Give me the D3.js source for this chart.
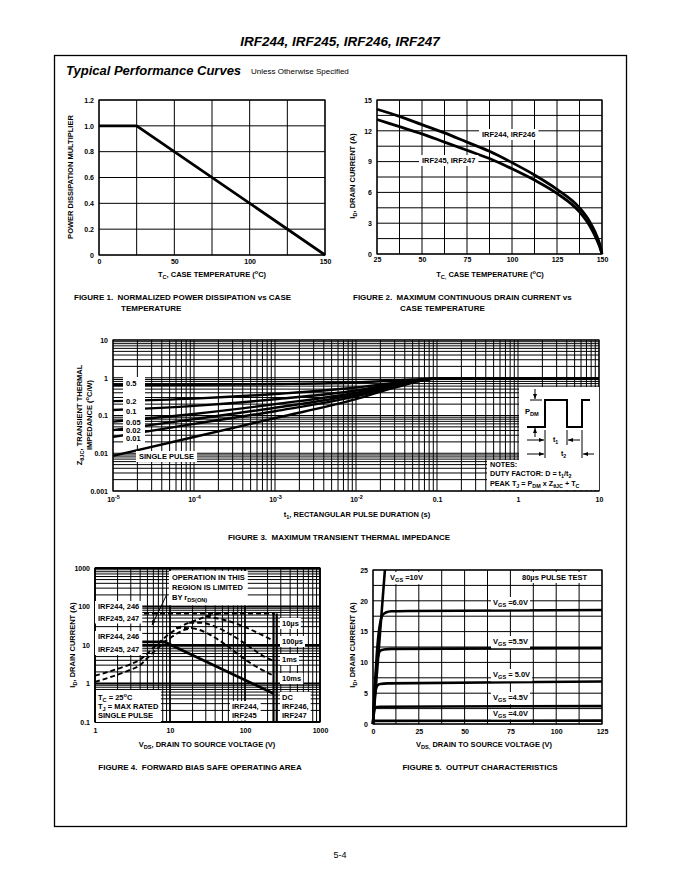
<!DOCTYPE html>
<html><head><meta charset="utf-8">
<script src="https://cdn.jsdelivr.net/npm/d3@7"></script>
<style>
body{margin:0;background:#fff}
text{font-family:"Liberation Sans",Arial,Helvetica,sans-serif;fill:#000;white-space:pre}
</style></head><body>
<svg id="c" width="680" height="880"></svg>
<script>
// ---------- DATA ----------
const fig1Temp = [0, 25, 150];
const fig1Mult = [1.0, 1.0, 0];
const fig1XTicks = [0, 50, 100, 150];
const fig1YTicks = [0, 0.2, 0.4, 0.6, 0.8, 1.0, 1.2];

const fig2Temp = [25, 37.5, 50, 62.5, 75, 87.5, 100, 112.5, 125, 137.5, 143, 146, 148.5, 150];
const fig2Id244 = [14.1, 13.4, 12.6, 11.8, 10.9, 10.0, 8.9, 7.7, 6.3, 4.5, 3.2, 2.2, 1.1, 0];
const fig2Id245 = [13.1, 12.4, 11.7, 10.9, 10.1, 9.3, 8.3, 7.2, 5.9, 4.1, 2.8, 1.8, 0.8, 0];
const fig2XTicks = [25, 50, 75, 100, 125, 150];
const fig2YTicks = [0, 3, 6, 9, 12, 15];

const fig3T = [1e-5, 1e-4, 1e-3, 1e-2, 3e-2, 0.1, 10];
const fig3Z05 = [0.64, 0.65, 0.68, 0.75, 0.84, 0.95, 0.95];
const fig3Z02 = [0.24, 0.28, 0.37, 0.55, 0.74, 0.95, 0.95];
const fig3Z01 = [0.14, 0.18, 0.27, 0.46, 0.69, 0.95, 0.95];
const fig3Z005 = [0.069, 0.11, 0.2, 0.4, 0.65, 0.95, 0.95];
const fig3Z002 = [0.041, 0.08, 0.16, 0.36, 0.62, 0.95, 0.95];
const fig3Z001 = [0.027, 0.06, 0.13, 0.32, 0.58, 0.95, 0.95];
const fig3ZSingle = [0.0085, 0.027, 0.085, 0.27, 0.55, 0.95, 0.95];
const fig3Duty = ["0.5", "0.2", "0.1", "0.05", "0.02", "0.01"];
const fig3XTicks = [1e-5, 1e-4, 1e-3, 1e-2, 0.1, 1, 10];
const fig3YTicks = [0.001, 0.01, 0.1, 1, 10];

const fig4DcV = [1, 8.5, 240];
const fig4DcI = [12, 12, 0.55];
const fig4RdsV_A = [1, 1.5, 2, 3, 4, 5, 6, 7, 8, 10, 13, 18, 25, 35, 45];
const fig4RdsI_A = [1.6, 2, 2.4, 3.2, 4.2, 6, 8.5, 11, 14, 20, 28, 38, 48, 60, 66];
const fig4RdsV_B = [1, 1.5, 2, 3, 4, 5, 6, 7, 8, 10, 13, 16, 20];
const fig4RdsI_B = [1.1, 1.4, 1.7, 2.3, 3, 4.6, 6.5, 8.5, 11, 15, 21, 25, 28];
const fig4P10usV = [4.5, 250];
const fig4P10usI = [66, 66];
const fig4P100usV = [30, 50, 80, 120, 170, 232];
const fig4P100usI = [55, 46, 35, 25, 18, 13.4];
const fig4P1msV = [18, 25, 40, 70, 120, 180, 232];
const fig4P1msI = [38, 38, 30, 17, 8.5, 5, 4];
const fig4P10msV = [12, 20, 35, 60, 100, 160, 232];
const fig4P10msI = [28, 27, 18, 9, 4.2, 2.4, 1.65];
const fig4VmaxA = 240, fig4VmaxB = 265;
const fig4XTicks = [1, 10, 100, 1000];
const fig4YTicks = [0.1, 1, 10, 100, 1000];

const fig5Vgs10V = [0, 6.5];
const fig5Vgs10I = [0, 25];
const fig5V60 = [0, 1, 2, 3, 4, 5, 7, 10, 20, 125];
const fig5I60 = [0, 6, 11, 14.5, 16.5, 17.6, 18.1, 18.3, 18.35, 18.5];
const fig5V55 = [0, 1, 2, 3, 4, 6, 10, 125];
const fig5I55 = [0, 5.5, 9.5, 11.3, 11.9, 12.1, 12.2, 12.3];
const fig5V50 = [0, 0.7, 1.5, 2.5, 4, 8, 125];
const fig5I50 = [0, 3.5, 5.5, 6.3, 6.5, 6.6, 6.9];
const fig5V45 = [0, 0.5, 1, 2, 4, 125];
const fig5I45 = [0, 1.8, 2.5, 2.75, 2.8, 2.9];
const fig5V40 = [0, 0.3, 1, 125];
const fig5I40 = [0, 0.4, 0.5, 0.55];
const fig5XTicks = [0, 25, 50, 75, 100, 125];
const fig5YTicks = [0, 5, 10, 15, 20, 25];

// ---------- HELPERS ----------
const FONT = '"Liberation Sans",Arial,Helvetica,sans-serif';
const svg = d3.select('#c');
svg.append('rect').attr('width', 680).attr('height', 880).attr('fill', '#fff');
const defs = svg.append('defs');
defs.append('marker').attr('id', 'ah').attr('viewBox', '0 0 10 10').attr('refX', 10).attr('refY', 5)
  .attr('markerWidth', 5).attr('markerHeight', 5).attr('orient', 'auto')
  .append('path').attr('d', 'M0,1 L10,5 L0,9 Z').attr('fill', '#000');

function rt(g, x, y, parts, o = {}) {
  const fs = o.size || 7.5;
  const t = g.append('text').attr('x', x).attr('y', y)
    .attr('font-size', fs).attr('font-weight', o.weight || 'bold')
    .attr('text-anchor', o.anchor || 'start');
  if (o.style) t.attr('font-style', o.style);
  if (o.transform) t.attr('transform', o.transform);
  let cur = 0;
  parts.forEach(p => {
    let txt = p, off = 0, size = fs;
    if (Array.isArray(p)) { txt = p[0]; off = p[1] === 'sub' ? 0.3 * fs : -0.4 * fs; size = fs * 0.75; }
    t.append('tspan').attr('dy', off - cur).attr('font-size', size).text(txt);
    cur = off;
  });
  return t;
}
function boxLabel(g, lines, x, y, lh, o = {}) {
  const gg = g.append('g');
  lines.forEach((l, i) => rt(gg, x, y + i * lh, l, o));
  const b = gg.node().getBBox();
  const px = o.px != null ? o.px : 2, py = o.py != null ? o.py : 1;
  gg.insert('rect', ':first-child').attr('x', b.x - px).attr('y', b.y - py)
    .attr('width', b.width + 2 * px).attr('height', b.height + 2 * py).attr('fill', '#fff');
  return gg;
}
function styleAxis(a, fs = 7) {
  a.attr('font-family', FONT).attr('font-size', fs).attr('font-weight', 'bold');
  a.select('.domain').remove();
  a.selectAll('text').attr('fill', '#000');
}
function logVals(lo, hi) {
  const v = [];
  for (let e = lo; e < hi; e++) for (let m = 1; m < 10; m++) v.push(m * Math.pow(10, e));
  v.push(Math.pow(10, hi));
  return v;
}
function grid(g, x, y, xv, yv, L, R, T, B, wf) {
  xv.forEach(v => g.append('line').attr('x1', x(v)).attr('x2', x(v)).attr('y1', T).attr('y2', B)
    .attr('stroke', '#000').attr('stroke-width', wf ? wf(v) : 1));
  yv.forEach(v => g.append('line').attr('x1', L).attr('x2', R).attr('y1', y(v)).attr('y2', y(v))
    .attr('stroke', '#000').attr('stroke-width', wf ? wf(v) : 1));
  g.append('rect').attr('x', L).attr('y', T).attr('width', R - L).attr('height', B - T)
    .attr('fill', 'none').attr('stroke', '#000').attr('stroke-width', 1.2);
}
function curve(g, x, y, xs, ys, o = {}) {
  const pts = xs.map((v, i) => [x(v), y(ys[i])]);
  const line = d3.line().curve(o.linear ? d3.curveLinear : d3.curveMonotoneX);
  const p = g.append('path').attr('d', line(pts)).attr('fill', 'none')
    .attr('stroke', '#000').attr('stroke-width', o.w || 2.6).attr('stroke-linejoin', 'round');
  if (o.dash) p.attr('stroke-dasharray', o.dash);
  return p;
}

// ---------- PAGE ----------
svg.append('text').attr('x', 340).attr('y', 46).attr('text-anchor', 'middle')
  .attr('font-size', 13.5).attr('font-weight', 'bold').attr('font-style', 'italic')
  .text('IRF244, IRF245, IRF246, IRF247');
svg.append('rect').attr('x', 54.5).attr('y', 55.5).attr('width', 572).attr('height', 771)
  .attr('fill', 'none').attr('stroke', '#000').attr('stroke-width', 1.3);
svg.append('text').attr('x', 66).attr('y', 75).attr('font-size', 13).attr('font-weight', 'bold')
  .attr('font-style', 'italic').text('Typical Performance Curves');
svg.append('text').attr('x', 251).attr('y', 74).attr('font-size', 8).text('Unless Otherwise Specified');
svg.append('text').attr('x', 340).attr('y', 858).attr('text-anchor', 'middle').attr('font-size', 9).text('5-4');

// ---------- FIGURE 1 ----------
{
  const L = 99, R = 325, T = 100, B = 255;
  const g = svg.append('g');
  const x = d3.scaleLinear([0, 150], [L, R]);
  const y = d3.scaleLinear([0, 1.2], [B, T]);
  grid(g, x, y, d3.range(0, 151, 25), d3.range(0, 7).map(i => i * 0.2), L, R, T, B);
  curve(g, x, y, fig1Temp, fig1Mult, { linear: true, w: 2.8 });
  g.append('g').attr('transform', `translate(0,${B})`)
    .call(d3.axisBottom(x).tickValues(fig1XTicks).tickSize(0).tickPadding(4).tickFormat(d3.format('d')))
    .call(a => styleAxis(a));
  g.append('g').attr('transform', `translate(${L},0)`)
    .call(d3.axisLeft(y).tickValues(fig1YTicks).tickSize(0).tickPadding(5).tickFormat(d => d === 0 ? '0' : d3.format('.1f')(d)))
    .call(a => styleAxis(a));
  rt(g, 212, 277, ['T', ['C', 'sub'], ', CASE TEMPERATURE (', ['o', 'sup'], 'C)'], { anchor: 'middle' });
  rt(g, 0, 0, ['POWER DISSIPATION MULTIPLIER'], { anchor: 'middle', transform: 'translate(73,177) rotate(-90)' });
  rt(g, 74, 300, ['FIGURE 1.  NORMALIZED POWER DISSIPATION vs CASE'], { size: 8 });
  rt(g, 121, 311, ['TEMPERATURE'], { size: 8 });
}

// ---------- FIGURE 2 ----------
{
  const L = 377, R = 602, T = 100, B = 254;
  const g = svg.append('g');
  const x = d3.scaleLinear([25, 150], [L, R]);
  const y = d3.scaleLinear([0, 15], [B, T]);
  grid(g, x, y, d3.range(0, 11).map(i => 25 + i * 12.5), d3.range(0, 11).map(i => i * 1.5), L, R, T, B);
  curve(g, x, y, fig2Temp, fig2Id244, { w: 2.8 });
  curve(g, x, y, fig2Temp, fig2Id245, { w: 2.8 });
  g.append('g').attr('transform', `translate(0,${B})`)
    .call(d3.axisBottom(x).tickValues(fig2XTicks).tickSize(0).tickPadding(3).tickFormat(d3.format('d')))
    .call(a => styleAxis(a));
  g.append('g').attr('transform', `translate(${L},0)`)
    .call(d3.axisLeft(y).tickValues(fig2YTicks).tickSize(0).tickPadding(5).tickFormat(d3.format('d')))
    .call(a => styleAxis(a));
  boxLabel(g, [['IRF244, IRF246']], 482, 137, 9, { px: 3 });
  boxLabel(g, [['IRF245, IRF247']], 422, 163, 9, { px: 3 });
  rt(g, 490, 277, ['T', ['C,', 'sub'], ' CASE TEMPERATURE (', ['o', 'sup'], 'C)'], { anchor: 'middle' });
  rt(g, 0, 0, ['I', ['D', 'sub'], ', DRAIN CURRENT (A)'], { anchor: 'middle', transform: 'translate(355,176) rotate(-90)' });
  rt(g, 353, 300, ['FIGURE 2.  MAXIMUM CONTINUOUS DRAIN CURRENT vs'], { size: 8 });
  rt(g, 400, 311, ['CASE TEMPERATURE'], { size: 8 });
}

// ---------- FIGURE 3 ----------
{
  const L = 113, R = 599, T = 340, B = 491;
  const g = svg.append('g');
  const x = d3.scaleLog([1e-5, 10], [L, R]);
  const y = d3.scaleLog([0.001, 10], [B, T]);
  grid(g, x, y, logVals(-5, 1), logVals(-3, 1), L, R, T, B);
  [fig3Z05, fig3Z02, fig3Z01, fig3Z005, fig3Z002, fig3Z001, fig3ZSingle].forEach(z =>
    curve(g, x, y, fig3T, z, { w: 2.4 }));
  const dl = g.append('g');
  fig3Duty.forEach((d, i) => {
    const yy = [386, 404, 413.5, 425, 433, 441][i];
    rt(dl, 126, yy, [d], {});
  });
  const bb = dl.node().getBBox();
  dl.insert('rect', ':first-child').attr('x', bb.x - 3).attr('y', bb.y - 2)
    .attr('width', 22).attr('height', bb.height + 4).attr('fill', '#fff');
  boxLabel(g, [['SINGLE PULSE']], 139, 459, 9, { px: 3 });
  g.append('rect').attr('x', 519).attr('y', 387).attr('width', 80).attr('height', 103).attr('fill', '#fff');
  g.append('rect').attr('x', 487).attr('y', 460).attr('width', 112).attr('height', 30).attr('fill', '#fff');
  const ins = g.append('g');
  ins.append('path').attr('d', 'M527,427 H545 V400 H567 V427 H582 V400 H590')
    .attr('fill', 'none').attr('stroke', '#000').attr('stroke-width', 2);
  const arr = (x1, y1, x2, y2) => ins.append('line').attr('x1', x1).attr('y1', y1).attr('x2', x2).attr('y2', y2)
    .attr('stroke', '#000').attr('stroke-width', 1).attr('marker-end', 'url(#ah)');
  const ln = (x1, y1, x2, y2) => ins.append('line').attr('x1', x1).attr('y1', y1).attr('x2', x2).attr('y2', y2)
    .attr('stroke', '#000').attr('stroke-width', 1);
  arr(535, 389, 535, 399); arr(535, 437, 535, 428);
  ln(530, 400, 542, 400);
  rt(ins, 525, 414, ['P', ['DM', 'sub']], {});
  arr(527, 440, 544, 440); arr(580, 440, 568, 440);
  ln(545, 430, 545, 458); ln(567, 430, 567, 445); ln(582, 430, 582, 458);
  rt(ins, 553, 442, ['t', ['1', 'sub']], { size: 7 });
  arr(527, 454, 544, 454); arr(594, 454, 583, 454);
  rt(ins, 561, 456, ['t', ['2', 'sub']], { size: 7 });
  rt(ins, 490, 467, ['NOTES:'], { size: 7.2 });
  rt(ins, 490, 476, ['DUTY FACTOR: D = t', ['1', 'sub'], '/t', ['2', 'sub']], { size: 7.2 });
  rt(ins, 490, 486, ['PEAK T', ['J', 'sub'], ' = P', ['DM', 'sub'], ' x Z', ['θJC', 'sub'], ' + T', ['C', 'sub']], { size: 7.2 });
  const xa = g.append('g').attr('transform', `translate(0,${B})`)
    .call(d3.axisBottom(x).tickValues(fig3XTicks).tickSize(0).tickPadding(6).tickFormat(d => d >= 0.1 ? d3.format('~g')(d) : '10'))
    .call(a => styleAxis(a));
  xa.selectAll('.tick text').each(function (d) {
    if (d < 0.1) {
      d3.select(this).append('tspan').attr('dy', -3).attr('font-size', 5.5).text(String(Math.round(Math.log10(d))));
    }
  });
  g.append('g').attr('transform', `translate(${L},0)`)
    .call(d3.axisLeft(y).tickValues(fig3YTicks).tickSize(0).tickPadding(5).tickFormat(d => d3.format('~g')(d)))
    .call(a => styleAxis(a));
  rt(g, 357, 517, ['t', ['1', 'sub'], ', RECTANGULAR PULSE DURATION (s)'], { anchor: 'middle' });
  rt(g, 0, 0, ['Z', ['θJC', 'sub'], ', TRANSIENT THERMAL'], { anchor: 'middle', transform: 'translate(82,415) rotate(-90)' });
  rt(g, 0, 0, ['IMPEDANCE (', ['o', 'sup'], 'C/W)'], { anchor: 'middle', transform: 'translate(92,415) rotate(-90)' });
  rt(g, 339, 540, ['FIGURE 3.  MAXIMUM TRANSIENT THERMAL IMPEDANCE'], { size: 8, anchor: 'middle' });
}

// ---------- FIGURE 4 ----------
{
  const L = 95, R = 320, T = 568, B = 722;
  const g = svg.append('g');
  const x = d3.scaleLog([1, 1000], [L, R]);
  const y = d3.scaleLog([0.1, 1000], [B, T]);
  const isDec = v => Math.abs(Math.log10(v) - Math.round(Math.log10(v))) < 1e-9;
  grid(g, x, y, logVals(0, 3), logVals(-1, 3), L, R, T, B, v => isDec(v) ? 1.8 : 1);
  curve(g, x, y, fig4RdsV_A, fig4RdsI_A, { w: 1.9, dash: '5,3' });
  curve(g, x, y, fig4RdsV_B, fig4RdsI_B, { w: 1.9, dash: '5,3' });
  curve(g, x, y, fig4P10usV, fig4P10usI, { w: 1.9, dash: '5,3', linear: true });
  curve(g, x, y, fig4P100usV, fig4P100usI, { w: 1.9, dash: '5,3' });
  curve(g, x, y, fig4P1msV, fig4P1msI, { w: 1.9, dash: '5,3' });
  curve(g, x, y, fig4P10msV, fig4P10msI, { w: 1.9, dash: '5,3' });
  curve(g, x, y, fig4DcV, fig4DcI, { w: 2.8, linear: true });
  [fig4VmaxA, fig4VmaxB].forEach(v => curve(g, x, y, [v, v], [0.1, 66], { w: 2.2, linear: true }));
  boxLabel(g, [['OPERATION IN THIS'], ['REGION IS LIMITED'], ['BY r', ['DS(ON)', 'sub']]], 172, 580, 10, { px: 3, py: 2 });
  boxLabel(g, [['IRF244, 246'], ['IRF245, 247']], 98, 609, 11.5, { px: 3, py: 1 });
  boxLabel(g, [['IRF244, 246'], ['IRF245, 247']], 98, 639, 13, { px: 3, py: 1 });
  g.append('line').attr('x1', 167).attr('y1', 594).attr('x2', 152).attr('y2', 625)
    .attr('stroke', '#000').attr('stroke-width', 1).attr('marker-end', 'url(#ah)');
  boxLabel(g, [['10µs']], 282, 626, 9, { px: 2 });
  boxLabel(g, [['100µs']], 282, 644, 9, { px: 2 });
  boxLabel(g, [['1ms']], 282, 662, 9, { px: 2 });
  boxLabel(g, [['10ms']], 282, 681, 9, { px: 2 });
  boxLabel(g, [['DC'], ['IRF246,'], ['IRF247']], 282, 700, 9, { px: 2 });
  boxLabel(g, [['IRF244,'], ['IRF245']], 232, 709, 8.5, { px: 2 });
  boxLabel(g, [['T', ['C', 'sub'], ' = 25', ['o', 'sup'], 'C'], ['T', ['J', 'sub'], ' = MAX RATED'], ['SINGLE PULSE']], 98, 700, 9, { px: 2, py: 2 });
  g.append('g').attr('transform', `translate(0,${B})`)
    .call(d3.axisBottom(x).tickValues(fig4XTicks).tickSize(0).tickPadding(6).tickFormat(d3.format('d')))
    .call(a => styleAxis(a));
  g.append('g').attr('transform', `translate(${L},0)`)
    .call(d3.axisLeft(y).tickValues(fig4YTicks).tickSize(0).tickPadding(5).tickFormat(d3.format('~g')))
    .call(a => styleAxis(a));
  rt(g, 207, 747, ['V', ['DS', 'sub'], ', DRAIN TO SOURCE VOLTAGE (V)'], { anchor: 'middle' });
  rt(g, 0, 0, ['I', ['D', 'sub'], ', DRAIN CURRENT (A)'], { anchor: 'middle', transform: 'translate(75,645) rotate(-90)' });
  rt(g, 200, 770, ['FIGURE 4.  FORWARD BIAS SAFE OPERATING AREA'], { size: 8, anchor: 'middle' });
}

// ---------- FIGURE 5 ----------
{
  const L = 373, R = 602, T = 570, B = 724;
  const g = svg.append('g');
  const x = d3.scaleLinear([0, 125], [L, R]);
  const y = d3.scaleLinear([0, 25], [B, T]);
  grid(g, x, y, d3.range(0, 11).map(i => i * 12.5), d3.range(0, 11).map(i => i * 2.5), L, R, T, B);
  curve(g, x, y, fig5Vgs10V, fig5Vgs10I, { w: 2.6, linear: true });
  curve(g, x, y, fig5V60, fig5I60, { w: 2.6 });
  curve(g, x, y, fig5V55, fig5I55, { w: 2.6 });
  curve(g, x, y, fig5V50, fig5I50, { w: 2.6 });
  curve(g, x, y, fig5V45, fig5I45, { w: 2.6 });
  curve(g, x, y, fig5V40, fig5I40, { w: 2.6 });
  boxLabel(g, [['V', ['GS', 'sub'], ' =10V']], 390, 580, 9, { px: 2 });
  boxLabel(g, [['80µs PULSE TEST']], 522, 580, 9, { px: 3 });
  boxLabel(g, [['V', ['GS', 'sub'], ' =6.0V']], 493, 605, 9, { px: 2 });
  boxLabel(g, [['V', ['GS', 'sub'], ' =5.5V']], 493, 644, 9, { px: 2 });
  boxLabel(g, [['V', ['GS', 'sub'], ' = 5.0V']], 493, 677, 9, { px: 2 });
  boxLabel(g, [['V', ['GS', 'sub'], ' =4.5V']], 493, 700, 9, { px: 2 });
  boxLabel(g, [['V', ['GS', 'sub'], ' =4.0V']], 493, 716, 9, { px: 2, py: 0 });
  g.append('g').attr('transform', `translate(0,${B})`)
    .call(d3.axisBottom(x).tickValues(fig5XTicks).tickSize(0).tickPadding(5).tickFormat(d3.format('d')))
    .call(a => styleAxis(a));
  g.append('g').attr('transform', `translate(${L},0)`)
    .call(d3.axisLeft(y).tickValues(fig5YTicks).tickSize(0).tickPadding(5).tickFormat(d3.format('d')))
    .call(a => styleAxis(a));
  rt(g, 484, 747, ['V', ['DS,', 'sub'], ' DRAIN TO SOURCE VOLTAGE (V)'], { anchor: 'middle' });
  rt(g, 0, 0, ['I', ['D', 'sub'], ', DRAIN CURRENT (A)'], { anchor: 'middle', transform: 'translate(355,645) rotate(-90)' });
  rt(g, 480, 770, ['FIGURE 5.  OUTPUT CHARACTERISTICS'], { size: 8, anchor: 'middle' });
}
</script>
</body></html>
